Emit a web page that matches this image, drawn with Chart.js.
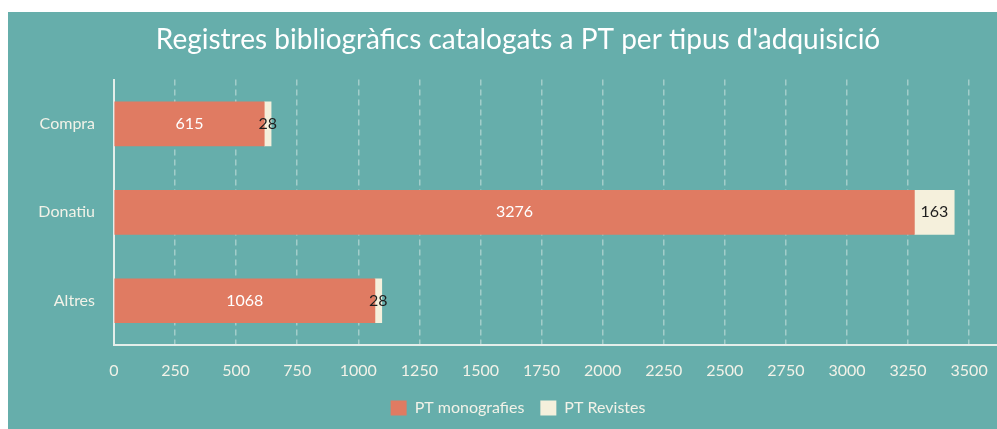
<!DOCTYPE html>
<html><head><meta charset="utf-8">
<script src="https://cdn.jsdelivr.net/npm/chart.js@4.4.1/dist/chart.umd.min.js"></script>
<style>
html,body{margin:0;padding:0;background:#fff;overflow:hidden;width:997px;height:429px}
#wrap{position:absolute;left:8px;top:12px;width:1020px;height:417px;background:#66AEAB}
</style></head>
<body><div id="wrap"><canvas id="c"></canvas></div>
<script>
const categories = ['Compra', 'Donatiu', 'Altres'];
const seriesNames = ['PT monografies', 'PT Revistes'];
const monografies = [615, 3276, 1068];
const revistes = [28, 163, 28];
const xTicks = [0, 250, 500, 750, 1000, 1250, 1500, 1750, 2000, 2250, 2500, 2750, 3000, 3250, 3500];
const titleText = "Registres bibliogràfics catalogats a PT per tipus d'adquisició";

const labelPlugin = {
  id: 'barLabels',
  afterDatasetsDraw(chart) {
    const ctx = chart.ctx;
    ctx.save();
    ctx.font = '16px Lato';
    ctx.textAlign = 'center';
    ctx.textBaseline = 'middle';
    chart.data.datasets.forEach((ds, i) => {
      const meta = chart.getDatasetMeta(i);
      meta.data.forEach((el, j) => {
        const p = el.getCenterPoint();
        ctx.fillStyle = i === 0 ? '#ffffff' : '#1e1e1e';
        ctx.fillText(String(ds.data[j]), p.x, p.y);
      });
    });
    ctx.restore();
  }
};

const tickColor = '#F2F2E8';
new Chart(document.getElementById('c'), {
  type: 'bar',
  data: {
    labels: categories,
    datasets: [
      { label: seriesNames[0], data: monografies, backgroundColor: '#E07B62', barThickness: 44 },
      { label: seriesNames[1], data: revistes, backgroundColor: '#F5F0DC', barThickness: 44 }
    ]
  },
  options: {
    indexAxis: 'y',
    responsive: true,
    maintainAspectRatio: false,
    animation: false,
    layout: { padding: { left: 0, right: 0, bottom: 3 } },
    plugins: {
      title: { display: true, text: titleText, color: '#ffffff', font: { family: 'Lato', size: 28, weight: 'normal' }, padding: { top: 11, bottom: 23 } },
      legend: { position: 'bottom', labels: { color: tickColor, font: { family: 'Lato', size: 16 }, boxWidth: 16, boxHeight: 15, padding: 16 } },
      tooltip: { enabled: false }
    },
    scales: {
      x: {
        stacked: true, min: 0, max: 3741,
        afterBuildTicks(scale) { scale.ticks = xTicks.map(v => ({ value: v })); },
        afterFit(scale) { scale.height = 39; },
        grid: { display: true, color: 'rgba(235,245,240,0.45)', lineWidth: 1.5, drawTicks: false },
        border: { display: true, color: '#E4EEEA', width: 2, dash: [6, 4] },
        ticks: { color: tickColor, font: { family: 'Lato', size: 16 }, padding: 16, maxRotation: 0, autoSkip: false,
                 callback: (v) => String(v) }
      },
      y: {
        stacked: true,
        afterFit(scale) { scale.width = 106; },
        grid: { display: true, color: 'rgba(0,0,0,0)', drawTicks: false },
        border: { display: true, color: '#E4EEEA', width: 2 },
        ticks: { color: tickColor, font: { family: 'Lato', size: 16 }, padding: 19 }
      }
    }
  },
  plugins: [labelPlugin]
});
</script>
</body></html>
